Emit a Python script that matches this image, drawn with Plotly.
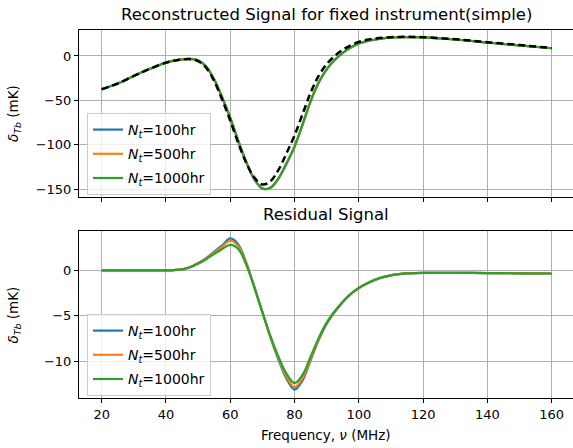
import plotly.graph_objects as go

freq = [20, 25, 30, 35, 40, 42.5, 45, 47.5, 50, 52.5, 55, 57.5, 60, 62.5, 65, 67.5, 70, 72.5,
        75, 77.5, 80, 82.5, 85, 87.5, 90, 92.5, 95, 97.5, 100, 102.5, 105, 107.5, 110, 112.5,
        115, 117.5, 120, 130, 140, 150, 160]

truth = [-37.5, -31, -22.5, -14.5, -7.5, -5.33, -4.0, -3.63, -5.73, -13.22, -28.3, -49.35,
         -72.8, -98.35, -120.6, -137.1, -144.9, -141.3, -128.5, -109.65, -89.6, -65.5, -41.5,
         -22.55, -9.25, 0.0, 6.95, 12.08, 15.94, 18.25, 19.55, 20.55, 21.15, 21.52, 21.64,
         21.5, 21.18, 18.87, 15.5, 12.33, 9.05]

recon_100 = [-37.5, -31, -22.5, -14.5, -7.5, -5.3, -3.9, -3.28, -4.93, -11.87, -26.25, -46.55,
             -69.3, -95.55, -119.75, -138.9, -149.5, -148.7, -138.3, -121.55, -102.7, -77.6,
             -51.4, -30.25, -15.15, -4.6, 3.45, 9.48, 13.99, 16.8, 18.5, 19.8, 20.6, 21.1, 21.3,
             21.2, 20.9, 18.6, 15.2, 12.0, 8.7]
recon_500 = [-37.5, -31, -22.5, -14.5, -7.5, -5.3, -3.9, -3.29, -4.96, -11.92, -26.35, -46.75,
             -69.55, -95.7, -119.85, -138.95, -149.5, -148.6, -138.15, -121.3, -102.45, -77.35,
             -51.25, -30.15, -15.1, -4.55, 3.47, 9.48, 13.99, 16.8, 18.5, 19.8, 20.6, 21.1, 21.3,
             21.2, 20.9, 18.6, 15.2, 12.0, 8.7]
recon_1000 = [-37.5, -31, -22.5, -14.5, -7.5, -5.3, -3.9, -3.3, -5.0, -12.0, -26.5, -47.0,
              -70.0, -96.0, -120.0, -139.0, -149.5, -148.5, -138.0, -121.0, -102.0, -77.0,
              -51.0, -30.0, -15.0, -4.5, 3.5, 9.5, 14.0, 16.8, 18.5, 19.8, 20.6, 21.1, 21.3,
              21.2, 20.9, 18.6, 15.2, 12.0, 8.7]

resid_100 = [0, 0, 0, 0, 0, 0.03, 0.1, 0.35, 0.8, 1.35, 2.05, 2.75, 3.5, 2.85, 0.85, -1.8,
             -4.6, -7.4, -9.8, -11.9, -13.1, -12.1, -9.9, -7.7, -5.9, -4.6, -3.5, -2.6, -1.95,
             -1.45, -1.05, -0.75, -0.55, -0.42, -0.34, -0.3, -0.28, -0.27, -0.3, -0.33, -0.35]
resid_500 = [0, 0, 0, 0, 0, 0.03, 0.1, 0.34, 0.77, 1.3, 1.95, 2.6, 3.25, 2.65, 0.75, -1.85,
             -4.6, -7.3, -9.65, -11.65, -12.85, -11.85, -9.75, -7.6, -5.85, -4.55, -3.48, -2.6,
             -1.95, -1.45, -1.05, -0.75, -0.55, -0.42, -0.34, -0.3, -0.28, -0.27, -0.3, -0.33,
             -0.35]
resid_1000 = [0, 0, 0, 0, 0, 0.03, 0.1, 0.33, 0.73, 1.22, 1.8, 2.35, 2.8, 2.35, 0.6, -1.9,
              -4.6, -7.2, -9.5, -11.35, -12.4, -11.5, -9.5, -7.45, -5.75, -4.5, -3.45, -2.58,
              -1.94, -1.45, -1.05, -0.75, -0.55, -0.42, -0.34, -0.3, -0.28, -0.27, -0.3, -0.33,
              -0.35]

labels = ["<i>N</i><sub><i>t</i></sub>=100hr", "<i>N</i><sub><i>t</i></sub>=500hr",
          "<i>N</i><sub><i>t</i></sub>=1000hr"]
colors = ["#1f77b4", "#ff7f0e", "#2ca02c"]

top_ticks = [0, -50, -100, -150]
bot_ticks = [0, -5, -10]
x_ticks = [20, 40, 60, 80, 100, 120, 140, 160]

def fmt(v):
    return ("\u2212" + str(abs(v))) if v < 0 else str(v)

FONT = "DejaVu Sans"
fig = go.Figure()

for i, (r, c, lab) in enumerate(zip([recon_100, recon_500, recon_1000], colors, labels)):
    fig.add_trace(go.Scatter(x=freq, y=r, mode="lines", name=lab, legendgroup="t%d" % i,
                             line=dict(color=c, width=2.2, shape="spline", smoothing=1.0),
                             xaxis="x", yaxis="y", legend="legend"))
fig.add_trace(go.Scatter(x=freq, y=truth, mode="lines", showlegend=False,
                         line=dict(color="black", width=2.5, dash="7px,4px", shape="spline",
                                   smoothing=1.0),
                         xaxis="x", yaxis="y"))
for i, (r, c, lab) in enumerate(zip([resid_100, resid_500, resid_1000], colors, labels)):
    fig.add_trace(go.Scatter(x=freq, y=r, mode="lines", name=lab, legendgroup="b%d" % i,
                             line=dict(color=c, width=2.2, shape="spline", smoothing=1.0),
                             xaxis="x2", yaxis="y2", legend="legend2"))

xr = [12.94, 166.65]
axis_common = dict(showgrid=True, gridcolor="#b0b0b0", gridwidth=1, zeroline=False,
                   ticks="outside", ticklen=4, tickcolor="black", tickwidth=1,
                   tickfont=dict(family=FONT, size=13, color="black"), showline=True,
                   linecolor="black", linewidth=1)

legend_common = dict(xanchor="left", yanchor="top", bgcolor="rgba(255,255,255,0.8)",
                     bordercolor="#cccccc", borderwidth=1,
                     font=dict(family=FONT, size=14, color="black"), tracegroupgap=3,
                     itemwidth=30)

fig.update_layout(
    width=573, height=448,
    margin=dict(l=79, r=0, t=30, b=50),
    paper_bgcolor="white", plot_bgcolor="white",
    font=dict(family=FONT, size=13, color="black"),
    xaxis=dict(domain=[0, 1], anchor="y", range=xr, tickvals=x_ticks, showticklabels=False,
               mirror=True, **axis_common),
    yaxis=dict(domain=[0.5462, 1], anchor="x", range=[-159, 29.3], tickvals=top_ticks,
               ticktext=[fmt(v) for v in top_ticks], **axis_common),
    xaxis2=dict(domain=[0, 1], anchor="y2", range=xr, tickvals=x_ticks,
                ticktext=[str(v) for v in x_ticks], mirror=True, **axis_common),
    yaxis2=dict(domain=[0, 0.4538], anchor="x2", range=[-14.03, 4.32], tickvals=bot_ticks,
                ticktext=[fmt(v) for v in bot_ticks], **axis_common),
    legend=dict(x=0.0162, y=0.7745, **legend_common),
    legend2=dict(x=0.0162, y=0.2283, **legend_common),
    annotations=[
        dict(text="Reconstructed Signal for fixed instrument(simple)", x=0.5, y=1.0408,
             xref="paper", yref="paper", showarrow=False, xanchor="center", yanchor="middle",
             font=dict(family=FONT, size=16.5, color="black")),
        dict(text="Residual Signal", x=0.5, y=0.4973, xref="paper", yref="paper",
             showarrow=False, xanchor="center", yanchor="middle",
             font=dict(family=FONT, size=16.5, color="black")),
        dict(text="<i>δ</i><sub><i>Tb</i></sub> (mK)", x=-0.1316, y=0.7745, xref="paper",
             yref="paper", showarrow=False, textangle=-90, xanchor="center", yanchor="middle",
             font=dict(family=FONT, size=13.5, color="black")),
        dict(text="<i>δ</i><sub><i>Tb</i></sub> (mK)", x=-0.1316, y=0.2269, xref="paper",
             yref="paper", showarrow=False, textangle=-90, xanchor="center", yanchor="middle",
             font=dict(family=FONT, size=13.5, color="black")),
        dict(text="Frequency, <i>ν</i> (MHz)", x=0.5, y=-0.1005, xref="paper", yref="paper",
             showarrow=False, xanchor="center", yanchor="middle",
             font=dict(family=FONT, size=13.5, color="black")),
    ],
)

fig.write_html("out.html")
